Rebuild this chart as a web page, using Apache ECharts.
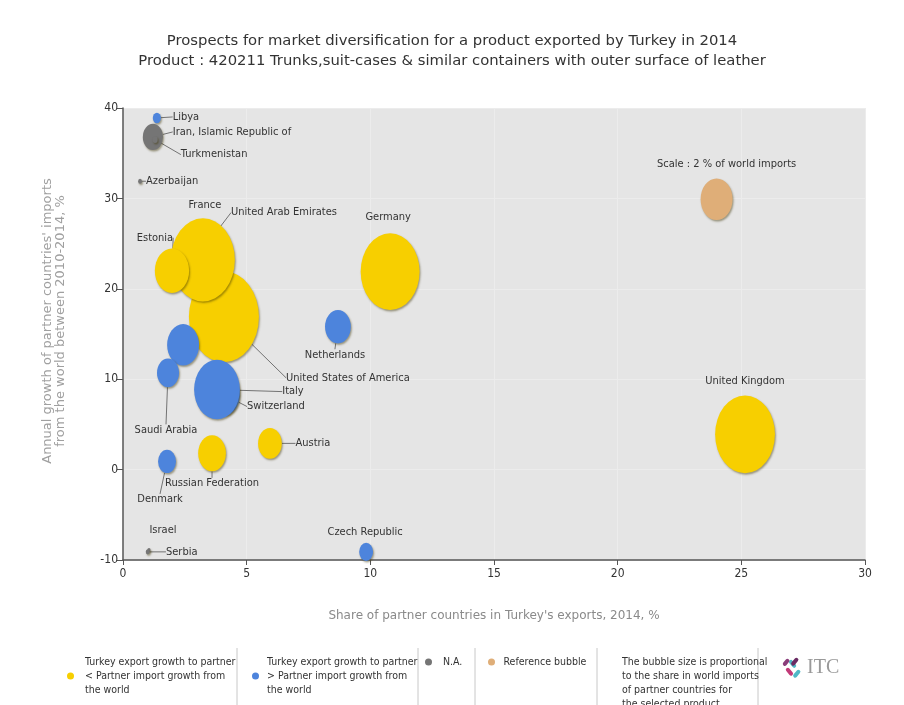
<!DOCTYPE html>
<html>
<head>
<meta charset="utf-8">
<script src="https://cdn.jsdelivr.net/npm/echarts@6/dist/echarts.min.js"></script>
<style>
html,body{margin:0;padding:0;background:#fff;}
#chart{width:904px;height:705px;}
</style>
</head>
<body>
<div id="chart"></div>
<script>
// ---------- DATA ----------
const countries = [
  "United States of America", "United Arab Emirates", "France", "Estonia", "Germany", "United Kingdom", "Russian Federation", "Austria",
  "", "Netherlands", "Saudi Arabia", "Switzerland", "Italy", "Denmark", "Czech Republic", "Libya",
  "Iran, Islamic Republic of", "Turkmenistan", "Azerbaijan", "Israel", "Serbia",
  "Scale : 2 % of world imports"
];
// Share of partner countries in Turkey's exports, 2014, %
const shareInExports = [
  4.08, 2.83, 3.23, 1.98, 10.8, 25.15, 3.6, 5.94,
  2.43, 8.69, 1.82, 4.08, 3.8, 1.78, 9.83, 1.37,
  1.21, 1.3, 0.69, 1.05, 1.0,
  24.0
];
// Annual growth of partner countries' imports from the world 2010-2014, %
const importGrowth = [
  16.9, 22.9, 23.2, 22.0, 21.9, 3.9, 1.8, 2.9,
  13.8, 15.8, 10.7, 8.3, 8.85, 0.9, -9.1, 38.9,
  36.8, 36.5, 31.9, -8.9, -9.1,
  29.9
];
// Share in world imports, % (bubble size)
const worldImportShare = [
  9.6, 1.5, 8.0, 2.3, 6.8, 7.0, 1.5, 1.1,
  2.0, 1.3, 0.95, 2.0, 4.1, 0.63, 0.38, 0.13,
  0.8, 0.05, 0.03, 0.02, 0.03,
  2.0
];
// group: 'lower' = export growth < import growth, 'higher' = >, 'na', 'ref'
const groups = [
  "lower", "lower", "lower", "lower", "lower", "lower", "lower", "lower",
  "higher", "higher", "higher", "higher", "higher", "higher", "higher", "higher",
  "na", "na", "na", "na", "na",
  "ref"
];
const xTicks = [0, 5, 10, 15, 20, 25, 30];
const yTicks = [-10, 0, 10, 20, 30, 40];

const seriesNames = {
  lower: "Turkey export growth to partner\n< Partner import growth from\nthe world",
  higher: "Turkey export growth to partner\n> Partner import growth from\nthe world",
  na: "N.A.",
  ref: "Reference bubble"
};

// ---------- STYLE (label placement offsets in px, line on/off) ----------
const labelPlace = {
  "United States of America": [124, 61, true],
  "United Arab Emirates": [91, -50, true],
  "France": [2, -55, false],
  "Estonia": [-17, -33, true],
  "Germany": [-2, -54, false],
  "United Kingdom": [0, -53, false],
  "Russian Federation": [0, 30, true],
  "Austria": [43, 0, true],
  "Netherlands": [-3, 28, true],
  "Saudi Arabia": [-2, 57, true],
  "Switzerland": [52, 12, true],
  "Italy": [76, 2, true],
  "Denmark": [-7, 38, true],
  "Czech Republic": [-1, -20, false],
  "Libya": [29, -1, true],
  "Iran, Islamic Republic of": [79, -5, true],
  "Turkmenistan": [59, 15, true],
  "Azerbaijan": [32, 0, true],
  "Israel": [14, -20, false],
  "Serbia": [34, 0, true],
  "Scale : 2 % of world imports": [10, -35, false]
};
const colors = { lower: "#f7cf00", higher: "#4d84dc", na: "#757575", ref: "#dfae78" };
const FONT_N = "'Liberation Sans Narrow','DejaVu Sans Condensed','Arial Narrow','Liberation Sans',sans-serif";

function sizeOf(v) {
  const w = 22.6 * Math.sqrt(v);
  return [w, w * 1.3];
}

const order = ["lower", "higher", "na", "ref"];
const seriesIdx = {};
const series = order.map(function (g, si) {
  const items = [];
  const names = [];
  countries.forEach(function (c, i) {
    if (groups[i] !== g) return;
    const lp = labelPlace[c];
    names.push(c);
    items.push({
      name: c,
      value: [shareInExports[i], importGrowth[i], worldImportShare[i]],
      label: { show: !!c },
      labelLine: { show: lp ? lp[2] : false }
    });
  });
  seriesIdx[si] = names;
  return {
    type: "scatter",
    name: seriesNames[g],
    data: items,
    symbol: "circle",
    symbolSize: function (val) { return sizeOf(val[2]); },
    itemStyle: {
      color: colors[g],
      opacity: 1,
      shadowColor: "rgba(60,50,0,0.45)",
      shadowBlur: 2,
      shadowOffsetX: 1,
      shadowOffsetY: 1.5
    },
    label: {
      show: true,
      position: "inside",
      formatter: "{b}",
      color: "#333",
      fontFamily: FONT_N,
      fontSize: 11,
      textShadowBlur: 0,
      textBorderWidth: 0
    },
    labelLine: {
      show: true,
      lineStyle: { color: "#555", width: 0.8 }
    },
    labelLayout: function (p) {
      const n = seriesIdx[p.seriesIndex][p.dataIndex];
      const lp = labelPlace[n] || [0, 0];
      return { dx: lp[0], dy: lp[1], hideOverlap: false };
    },
    emphasis: { disabled: true }
  };
});

const chart = echarts.init(document.getElementById("chart"), null, { renderer: "canvas" });

function legendFor(g, left, top, w) {
  return {
    data: [seriesNames[g]],
    left: left,
    top: top,
    padding: 0,
    itemWidth: w,
    itemHeight: 7,
    icon: "circle",
    selectedMode: false,
    itemStyle: { shadowBlur: 0, shadowOffsetX: 0, shadowOffsetY: 0 },
    textStyle: { color: "#333", fontFamily: FONT_N, fontSize: 10.5, lineHeight: 14 }
  };
}

const sepX = [237, 418, 475, 597, 758];
const graphics = sepX.map(function (x) {
  return { type: "line", shape: { x1: x, y1: 648, x2: x, y2: 705 }, style: { stroke: "#c8c8c8", lineWidth: 1 } };
});
graphics.push({
  type: "text", left: 622, top: 655,
  style: {
    text: "The bubble size is proportional\nto the share in world imports\nof partner countries for\nthe selected product",
    fill: "#333", font: "10.5px " + FONT_N, align: "center", lineHeight: 14, width: 120
  }
});
// ITC logo
graphics.push({
  type: "group", left: 782, top: 657,
  children: [
    { type: "rect", shape: { x: -2, y: 4, width: 4, height: 9, r: 2 }, rotation: 0.7, x: 6, y: 4, style: { fill: "#4fb8c6" } },
    { type: "rect", shape: { x: -2, y: -4, width: 4, height: 9, r: 2 }, rotation: -0.7, x: 14, y: 8, style: { fill: "#6a2a63" } },
    { type: "rect", shape: { x: -2, y: -4, width: 4, height: 9, r: 2 }, rotation: 0.7, x: 8, y: 18, style: { fill: "#c23a78" } },
    { type: "rect", shape: { x: -2, y: -4, width: 4, height: 9, r: 2 }, rotation: -0.7, x: 16, y: 20, style: { fill: "#4fb8c6" } },
    { type: "rect", shape: { x: -2, y: -4, width: 4, height: 8, r: 2 }, rotation: -0.7, x: 5, y: 9, style: { fill: "#8a3d7a" } },
    { type: "text", x: 26, y: 4, style: { text: "ITC", fill: "#999", font: "20px 'Liberation Serif','DejaVu Serif',serif" } }
  ]
});

const option = {
  backgroundColor: "#ffffff",
  animation: false,
  title: {
    text: "Prospects for market diversification for a product exported by Turkey in 2014\nProduct : 420211 Trunks,suit-cases & similar containers with outer surface of leather",
    left: "center",
    top: 31,
    padding: [0, 0, 0, 18],
    textStyle: { color: "#333", fontFamily: "'DejaVu Sans',sans-serif", fontWeight: "normal", fontSize: 14.8, lineHeight: 20 }
  },
  grid: {
    left: 123, right: 39, top: 108, bottom: 145,
    show: true, backgroundColor: "#e5e5e5", borderWidth: 0
  },
  xAxis: {
    type: "value",
    min: xTicks[0], max: xTicks[xTicks.length - 1], interval: 5,
    name: "Share of partner countries in Turkey's exports, 2014, %",
    nameLocation: "middle",
    nameGap: 50,
    nameTextStyle: { color: "#8a8a8a", fontFamily: "'DejaVu Sans',sans-serif", fontSize: 12 },
    axisLine: { show: true, onZero: false, lineStyle: { color: "#555", width: 1.5 } },
    axisTick: { show: true, length: 5, lineStyle: { color: "#555" } },
    axisLabel: { color: "#333", fontFamily: FONT_N, fontSize: 12, margin: 8 },
    splitLine: { show: true, lineStyle: { color: "#ececec", width: 1 } }
  },
  yAxis: {
    type: "value",
    min: yTicks[0], max: yTicks[yTicks.length - 1], interval: 10,
    name: "Annual growth of partner countries' imports\nfrom the world between 2010-2014, %",
    nameLocation: "middle",
    nameGap: 56,
    nameTextStyle: { color: "#a0a0a0", fontFamily: "'DejaVu Sans',sans-serif", fontSize: 13, lineHeight: 13, padding: [0, 0, 0, 26] },
    axisLine: { show: true, onZero: false, lineStyle: { color: "#555", width: 1.5 } },
    axisTick: { show: true, length: 6, lineStyle: { color: "#555" } },
    axisLabel: { color: "#333", fontFamily: FONT_N, fontSize: 12, margin: 5 },
    splitLine: { show: true, lineStyle: { color: "#ececec", width: 1 } }
  },
  legend: [
    legendFor("lower", 67, 655, 19),
    legendFor("higher", 252, 655, 13),
    legendFor("na", 425, 655, 19),
    legendFor("ref", 488, 655, 14)
  ],
  graphic: graphics,
  series: series
};
chart.setOption(option);
</script>
</body>
</html>
